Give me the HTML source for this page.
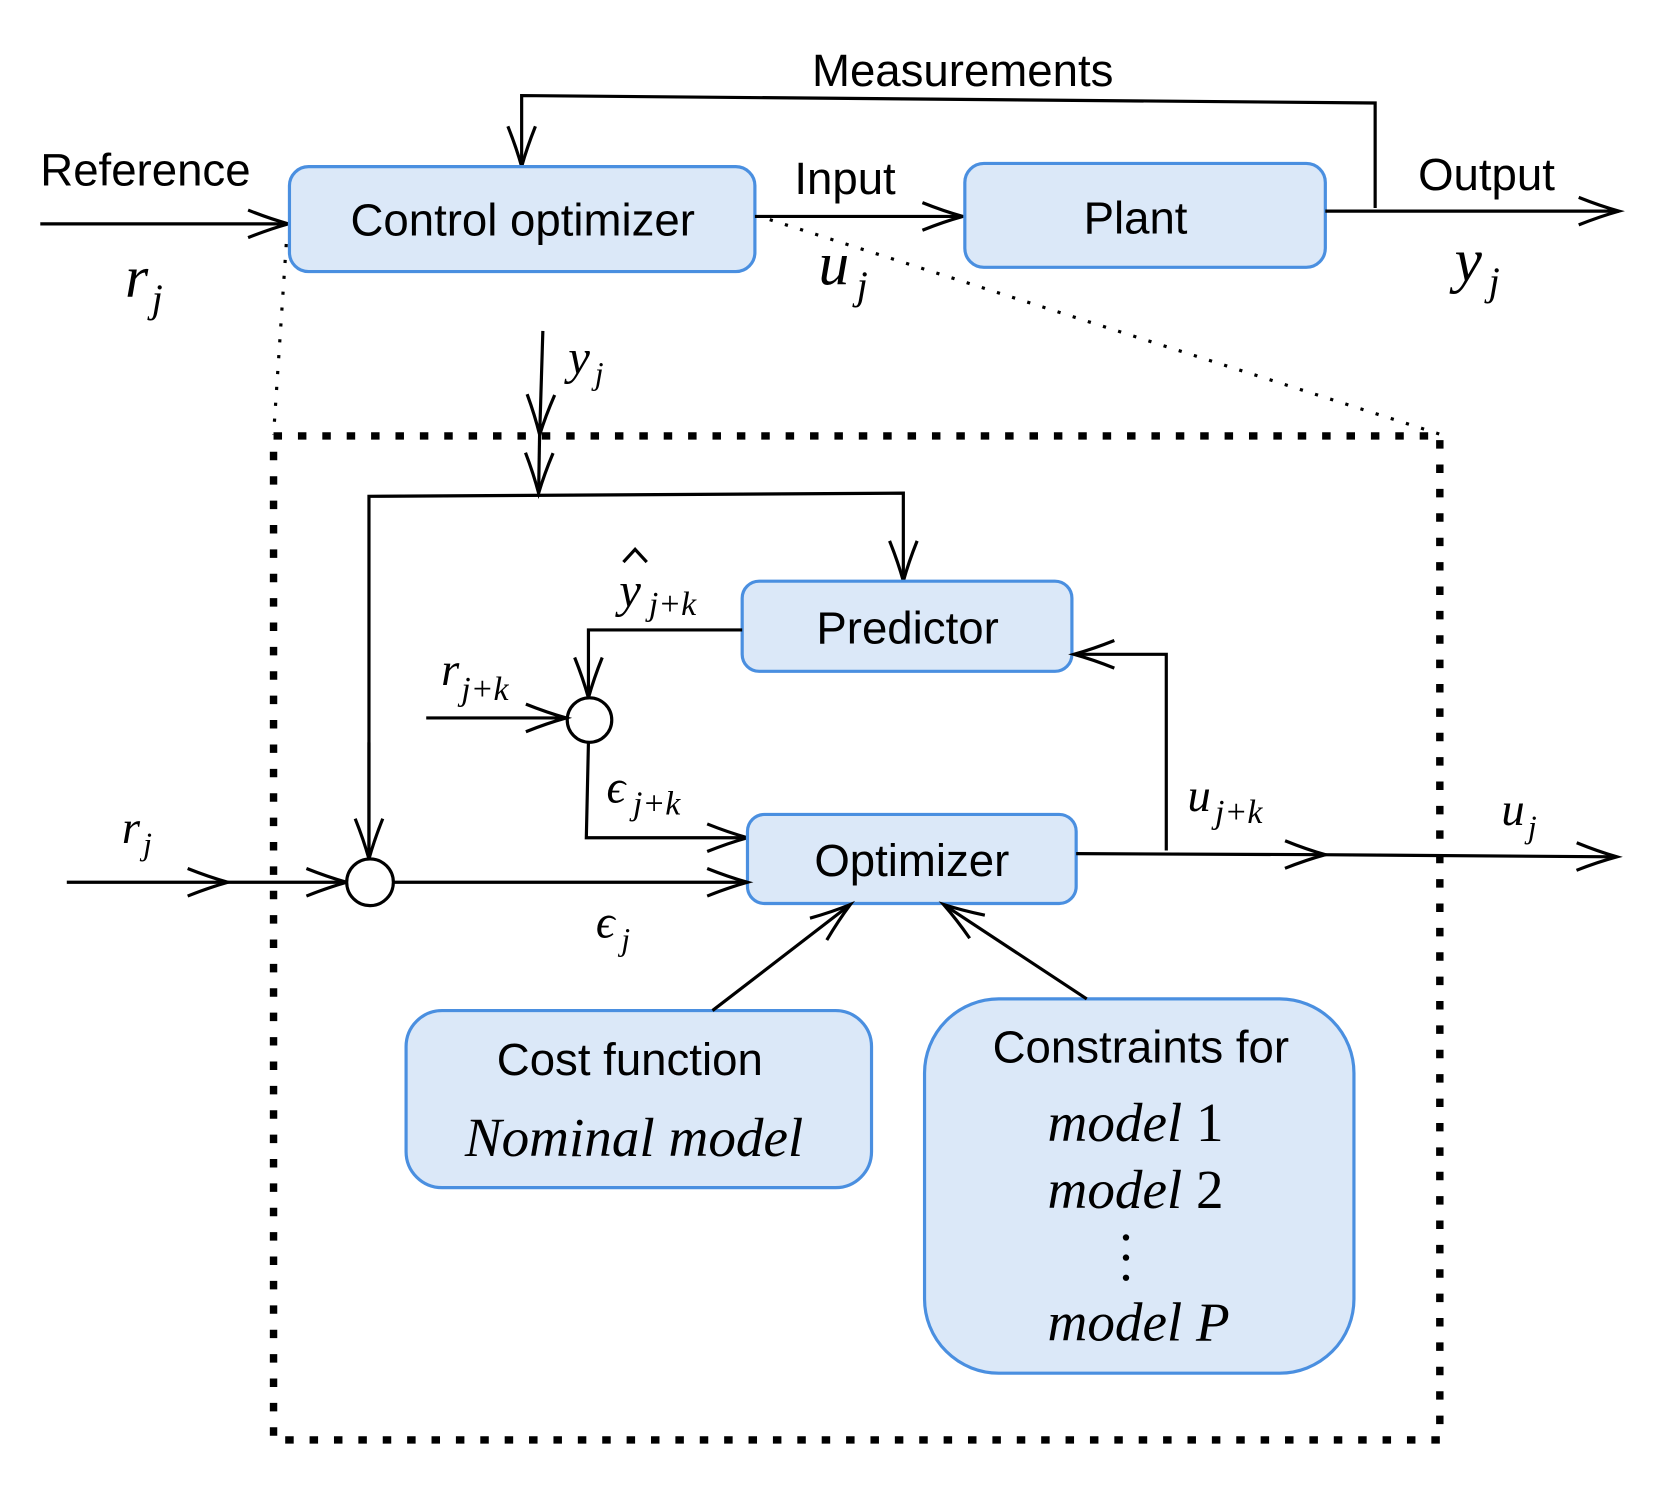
<!DOCTYPE html>
<html><head><meta charset="utf-8"><style>
html,body{margin:0;padding:0;background:#fff}
svg{display:block}
.s{font-family:"Liberation Sans",sans-serif;fill:#000}
.m{font-family:"Liberation Serif",serif;font-style:italic;fill:#000}
.l{stroke:#000;stroke-width:3;fill:none}
.b{fill:#dbe8f8;stroke:#4a8fe0;stroke-width:3}
</style></head><body>
<svg width="1654" height="1491" viewBox="0 0 1560 1406" xmlns="http://www.w3.org/2000/svg">
<defs>
<marker id="a" markerUnits="userSpaceOnUse" markerWidth="50" markerHeight="40" refX="40" refY="15" orient="auto">
<path d="M2,2 Q22,10 40,15 Q22,20 2,28" fill="none" stroke="#000" stroke-width="3"/>
</marker>
</defs>
<text class="s" x="908" y="81" font-size="43" text-anchor="middle">Measurements</text>
<path class="l" d="M1297,196 L1297,97 L492,90 L492,157" marker-end="url(#a)"/>
<text class="s" x="38" y="175" font-size="43">Reference</text>
<path class="l" d="M38,211 L272,211" marker-end="url(#a)"/>
<text class="m" x="118" y="280" font-size="56">r</text><text class="m" x="143" y="294" font-size="38">j</text>
<rect class="b" x="273" y="157" width="439" height="99" rx="18"/>
<text class="s" x="493" y="222" font-size="43" text-anchor="middle">Control optimizer</text>
<text class="s" x="797" y="183" font-size="43" text-anchor="middle">Input</text>
<path class="l" d="M712,204 L908,204" marker-end="url(#a)"/>
<text class="m" x="772" y="268" font-size="58">u</text><text class="m" x="808" y="282" font-size="38">j</text>
<rect class="b" x="910" y="154" width="340" height="98" rx="18"/>
<text class="s" x="1071" y="220" font-size="43" text-anchor="middle">Plant</text>
<text class="s" x="1402" y="179" font-size="43" text-anchor="middle">Output</text>
<path class="l" d="M1250,199 L1527,199" marker-end="url(#a)"/>
<text class="m" x="1372" y="265" font-size="58">y</text><text class="m" x="1404" y="278" font-size="38">j</text>
<path d="M270,230 L258,410" stroke="#000" stroke-width="3" stroke-dasharray="3,12" fill="none"/>
<path d="M726,207 L1360,410" stroke="#000" stroke-width="3" stroke-dasharray="3,12" fill="none"/>
<rect x="258" y="411" width="1100" height="947" fill="none" stroke="#000" stroke-width="7" stroke-dasharray="8,15"/>
<path class="l" d="M512,312 L509,410" marker-end="url(#a)"/>
<path class="l" d="M509,405 L508,465" marker-end="url(#a)"/>
<text class="m" x="536" y="352" font-size="46">y</text><text class="m" x="561" y="362" font-size="30">j</text>
<path class="l" d="M348,810 L348,468 L852,465 L852,548" marker-end="url(#a)"/>
<path class="l" d="M348,700 L348,810" marker-end="url(#a)"/>
<rect class="b" x="700" y="548" width="311" height="85" rx="16"/>
<text class="s" x="856" y="607" font-size="43" text-anchor="middle">Predictor</text>
<text class="m" x="584" y="572" font-size="46">y</text>
<path d="M588,530 L599,518 L610,530" fill="none" stroke="#000" stroke-width="3"/>
<text class="m" x="612" y="580" font-size="32">j+k</text>
<path class="l" d="M700,594 L555,594 L555,658" marker-end="url(#a)"/>
<circle cx="556" cy="679" r="21" fill="#fff" stroke="#000" stroke-width="3"/>
<text class="m" x="416" y="646" font-size="44">r</text><text class="m" x="435" y="660" font-size="32">j+k</text>
<path class="l" d="M402,677 L534,677" marker-end="url(#a)"/>
<text class="m" x="572" y="757" font-size="44">ϵ</text><text class="m" x="597" y="768" font-size="32">j+k</text>
<path class="l" d="M555,700 L553,790 L705,790" marker-end="url(#a)"/>
<rect class="b" x="705" y="768" width="310" height="84" rx="16"/>
<text class="s" x="860" y="826" font-size="43" text-anchor="middle">Optimizer</text>
<text class="m" x="115" y="795" font-size="44">r</text><text class="m" x="135" y="806" font-size="30">j</text>
<path class="l" d="M63,832 L215,832" marker-end="url(#a)"/>
<path class="l" d="M210,832 L327,832" marker-end="url(#a)"/>
<circle cx="349" cy="832" r="22" fill="#fff" stroke="#000" stroke-width="3"/>
<path class="l" d="M371,832 L705,832" marker-end="url(#a)"/>
<text class="m" x="562" y="884" font-size="44">ϵ</text><text class="m" x="586" y="896" font-size="30">j</text>
<path class="l" d="M1015,805 L1250,806" marker-end="url(#a)"/>
<path class="l" d="M1245,806 L1525,808" marker-end="url(#a)"/>
<path class="l" d="M1100,802 L1100,617 L1013,617" marker-end="url(#a)"/>
<text class="m" x="1120" y="765" font-size="44">u</text><text class="m" x="1146" y="776" font-size="32">j+k</text>
<text class="m" x="1416" y="778" font-size="44">u</text><text class="m" x="1441" y="790" font-size="30">j</text>
<rect class="b" x="383" y="953" width="439" height="167" rx="34"/>
<text class="s" x="594" y="1014" font-size="43" text-anchor="middle">Cost function</text>
<text class="m" x="598" y="1090" font-size="52" text-anchor="middle">Nominal model</text>
<path class="l" d="M672,953 L802,853" marker-end="url(#a)"/>
<rect class="b" x="872" y="942" width="405" height="353" rx="70"/>
<text class="s" x="1076" y="1002" font-size="43" text-anchor="middle">Constraints for</text>
<text class="m" x="988" y="1076" font-size="52">model <tspan font-style="normal">1</tspan></text>
<text class="m" x="988" y="1139" font-size="52">model <tspan font-style="normal">2</tspan></text>
<circle cx="1062" cy="1167" r="3" fill="#000"/><circle cx="1062" cy="1186" r="3" fill="#000"/><circle cx="1062" cy="1205" r="3" fill="#000"/>
<text class="m" x="988" y="1264" font-size="52">model P</text>
<path class="l" d="M1025,942 L890,853" marker-end="url(#a)"/>
</svg>
</body></html>
